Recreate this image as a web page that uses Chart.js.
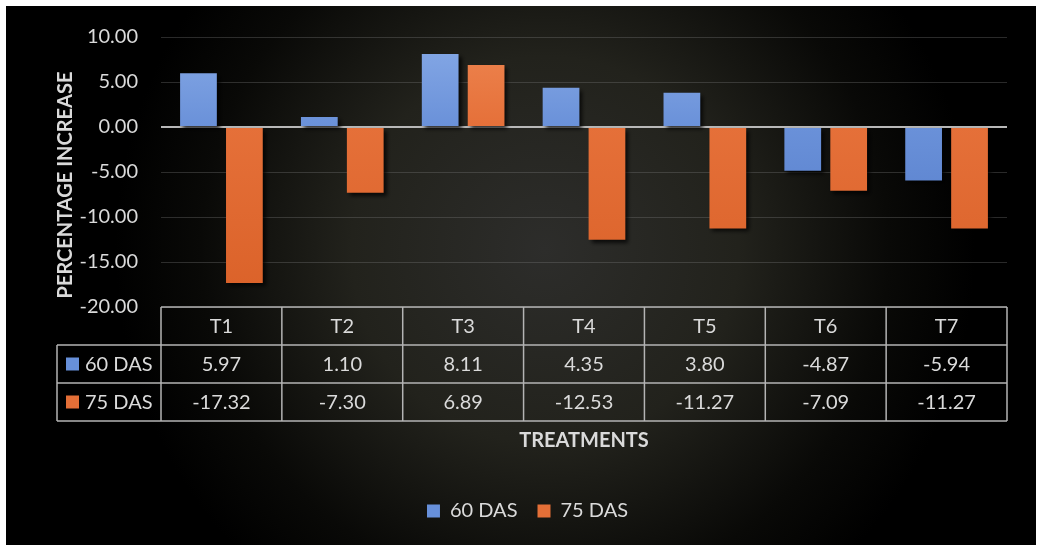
<!DOCTYPE html>
<html>
<head>
<meta charset="utf-8">
<script src="https://cdn.jsdelivr.net/npm/chart.js@4/dist/chart.umd.min.js"></script>
<style>
  html, body { margin: 0; padding: 0; background: #ffffff; }
  canvas { display: block; }
</style>
</head>
<body>
<canvas id="chart" width="1039" height="545"></canvas>
<script>
// Percentage increase per treatment at two sampling dates
const treatments = ['T1', 'T2', 'T3', 'T4', 'T5', 'T6', 'T7'];
const das60 = [5.97, 1.10, 8.11, 4.35, 3.80, -4.87, -5.94];
const das75 = [-17.32, -7.30, 6.89, -12.53, -11.27, -7.09, -11.27];
const seriesNames = ['60 DAS', '75 DAS'];
const yTicks = [10, 5, 0, -5, -10, -15, -20];
const yAxisTitle = 'PERCENTAGE INCREASE';
const xAxisTitle = 'TREATMENTS';

const FONT = 'Lato, "Open Sans", sans-serif';
const TEXT = '#dadada';
const BLUE = '#6790da';
const ORANGE = '#e46f37';

function barGradient(chart, top, mid, bottom) {
  const ca = chart.chartArea;
  if (!ca) return mid;
  const g = chart.ctx.createLinearGradient(0, ca.top, 0, ca.bottom);
  g.addColorStop(0, top);
  g.addColorStop(0.33, mid);
  g.addColorStop(1, bottom);
  return g;
}

function line(ctx, x1, y1, x2, y2) {
  ctx.beginPath();
  ctx.moveTo(x1, y1);
  ctx.lineTo(x2, y2);
  ctx.stroke();
}

const chartDecor = {
  id: 'chartDecor',
  beforeDraw(chart) {
    const { ctx, width, height } = chart;
    ctx.save();
    ctx.fillStyle = '#ffffff';
    ctx.fillRect(0, 0, width, height);
    const g = ctx.createRadialGradient(545, 250, 0, 545, 250, 430);
    g.addColorStop(0, '#2d2d2b');
    g.addColorStop(0.45, '#22221c');
    g.addColorStop(0.8, '#090907');
    g.addColorStop(1, '#000000');
    ctx.fillStyle = g;
    ctx.fillRect(6, 6, 1030, height);
    ctx.restore();
  },
  beforeDatasetsDraw(chart) {
    const ctx = chart.ctx;
    ctx.save();
    ctx.shadowColor = 'rgba(0,0,0,0.75)';
    ctx.shadowBlur = 4;
    ctx.shadowOffsetX = 3;
    ctx.shadowOffsetY = 3;
  },
  afterDatasetsDraw(chart) {
    chart.ctx.restore();
  },
  afterDraw(chart) {
    const { ctx, chartArea: ca, scales: { x } } = chart;
    const n = treatments.length;
    const colW = (ca.right - ca.left) / n;
    const rowH = 38;
    const top = ca.bottom;
    const labelLeft = 57;
    const rows = [das60, das75];
    const keyColors = [BLUE, ORANGE];

    ctx.save();
    // data table grid
    ctx.strokeStyle = '#b4b4b4';
    ctx.lineWidth = 1.5;
    line(ctx, ca.left, top, ca.right, top);
    for (let r = 1; r <= 3; r++) {
      line(ctx, labelLeft, top + r * rowH, ca.right, top + r * rowH);
    }
    line(ctx, labelLeft, top + rowH, labelLeft, top + 3 * rowH);
    for (let i = 0; i <= n; i++) {
      const xx = ca.left + i * colW;
      line(ctx, xx, top, xx, top + 3 * rowH);
    }

    // table text
    ctx.fillStyle = TEXT;
    ctx.font = '20px ' + FONT;
    ctx.textAlign = 'center';
    ctx.textBaseline = 'middle';
    treatments.forEach((t, i) => {
      ctx.fillText(t, x.getPixelForValue(i), top + rowH / 2 + 1);
    });
    rows.forEach((vals, r) => {
      const cy = top + (r + 1) * rowH + rowH / 2 + 1;
      vals.forEach((v, i) => {
        ctx.fillText(v.toFixed(2), x.getPixelForValue(i), cy);
      });
    });
    // series keys in the first column
    rows.forEach((vals, r) => {
      const cy = top + (r + 1) * rowH + rowH / 2;
      ctx.fillStyle = keyColors[r];
      ctx.fillRect(labelLeft + 9, cy - 6.5, 13, 13);
      ctx.fillStyle = TEXT;
      ctx.textAlign = 'left';
      ctx.fillText(seriesNames[r], labelLeft + 28, cy + 1);
    });

    // axis titles
    ctx.font = 'bold 20px ' + FONT;
    ctx.textAlign = 'center';
    ctx.fillStyle = TEXT;
    ctx.fillText(xAxisTitle, (ca.left + ca.right) / 2, 441);
    ctx.translate(66, 185);
    ctx.rotate(-Math.PI / 2);
    ctx.fillText(yAxisTitle, 0, 0);
    ctx.restore();
  }
};

new Chart(document.getElementById('chart'), {
  type: 'bar',
  data: {
    labels: treatments,
    datasets: [
      {
        label: seriesNames[0],
        data: das60,
        backgroundColor: (c) => barGradient(c.chart, '#86a9e6', '#6a91d9', '#4c74c4'),
        borderWidth: 0,
        categoryPercentage: 0.76,
        barPercentage: 0.8
      },
      {
        label: seriesNames[1],
        data: das75,
        backgroundColor: (c) => barGradient(c.chart, '#ee8550', '#e57039', '#da6128'),
        borderWidth: 0,
        categoryPercentage: 0.76,
        barPercentage: 0.8
      }
    ]
  },
  options: {
    responsive: false,
    animation: false,
    devicePixelRatio: 1,
    layout: { padding: { left: 48, right: 32, top: 37, bottom: 14 } },
    scales: {
      x: {
        grid: { display: false },
        border: { display: false },
        ticks: { display: false },
        afterFit(scale) { scale.height = 174; }
      },
      y: {
        min: -20,
        max: 10,
        afterBuildTicks(scale) { scale.ticks = yTicks.map(v => ({ value: v })); },
        afterFit(scale) { scale.width = 113; },
        border: { display: false },
        grid: {
          drawTicks: false,
          color: (c) => c.tick && c.tick.value === 0 ? '#b8b8b8' : 'rgba(120,120,120,0.35)',
          lineWidth: (c) => c.tick && c.tick.value === 0 ? 2 : 1
        },
        ticks: {
          padding: 23,
          color: TEXT,
          font: { family: FONT, size: 20 },
          callback: (v) => Number(v).toFixed(2)
        }
      }
    },
    plugins: {
      legend: {
        position: 'bottom',
        labels: {
          color: TEXT,
          font: { family: FONT, size: 20 },
          boxWidth: 13,
          boxHeight: 13,
          padding: 20,
          generateLabels(chart) {
            const cols = [BLUE, ORANGE];
            return chart.data.datasets.map((ds, i) => ({
              text: ds.label,
              fillStyle: cols[i],
              strokeStyle: cols[i],
              lineWidth: 0,
              fontColor: TEXT,
              hidden: false,
              datasetIndex: i
            }));
          }
        }
      },
      tooltip: { enabled: false }
    }
  },
  plugins: [chartDecor]
});
</script>
</body>
</html>
